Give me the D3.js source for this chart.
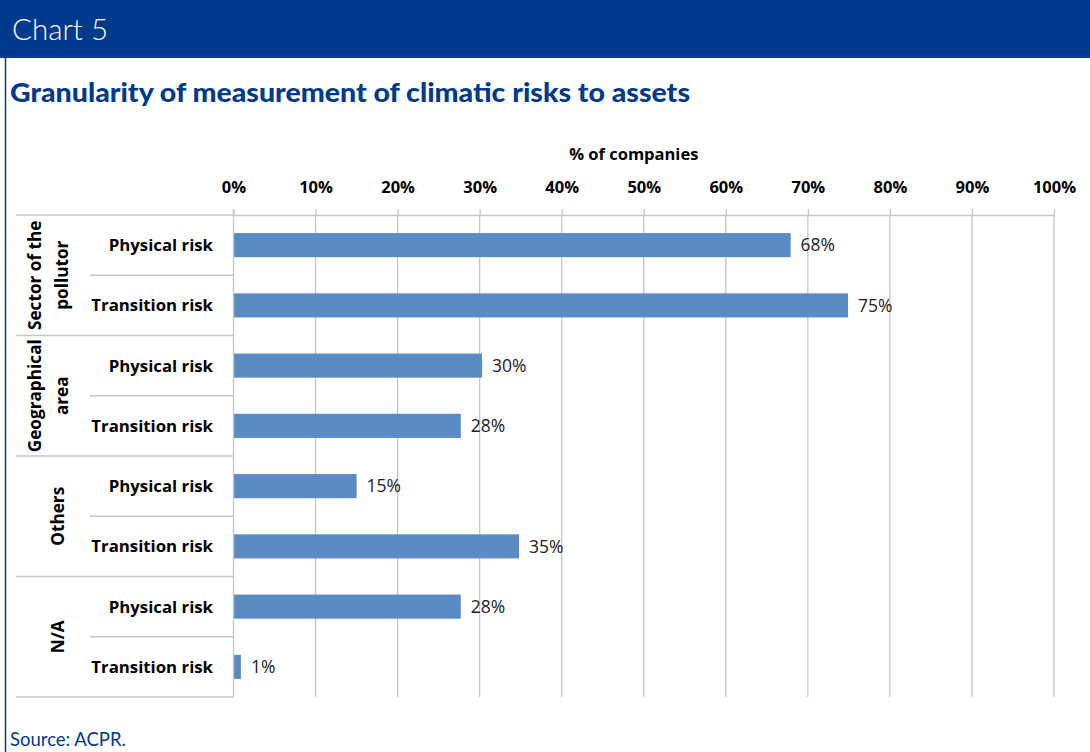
<!DOCTYPE html>
<html><head><meta charset="utf-8">
<script src="https://cdn.jsdelivr.net/npm/d3@7"></script>
<style>
body{margin:0;background:#fff;}
svg{display:block;}
</style></head><body>
<svg id="c" width="1090" height="752"></svg>
<script>
const groups = ["Sector of the|pollutor", "Geographical|area", "Others", "N/A"];
const subcats = ["Physical risk", "Transition risk"];
const values = [67.9, 74.9, 30.3, 27.7, 15.0, 34.8, 27.7, 0.9];
const ticks = [0, 10, 20, 30, 40, 50, 60, 70, 80, 90, 100];

const rows = [];
groups.forEach((g, gi) => subcats.forEach((s, si) => rows.push({key: gi + "-" + si, group: g, sub: s, v: values[gi * 2 + si]})));

const svg = d3.select("#c");
const blue = "#003A8C";
const font = "'Open Sans', sans-serif";
const fs = 16.5;

// header band
svg.append("rect").attr("x", 0).attr("y", 0).attr("width", 1090).attr("height", 58).attr("fill", blue);
svg.append("text").attr("x", 12).attr("y", 40).attr("fill", "#fff")
  .attr("font-family", "Lato, 'Open Sans', sans-serif").attr("font-weight", 300).attr("font-size", 29.5)
  .text("Chart 5");
// left border
svg.append("line").attr("x1", 5.5).attr("x2", 5.5).attr("y1", 58).attr("y2", 752).attr("stroke", blue).attr("stroke-width", 1.5);

// title
svg.append("text").attr("x", 10).attr("y", 102).attr("fill", blue)
  .attr("font-family", "Lato, 'Open Sans', sans-serif").attr("font-weight", 900).attr("font-size", 26)
  .attr("textLength", 680).attr("lengthAdjust", "spacingAndGlyphs")
  .text("Granularity of measurement of climatic risks to assets");

// source
svg.append("text").attr("x", 10).attr("y", 746).attr("fill", blue)
  .attr("font-family", "Lato, 'Open Sans', sans-serif").attr("font-size", 18.5)
  .text("Source: ACPR.");

const x0 = 233.5, x1 = 1054, yTop = 215, yBot = 697;
const x = d3.scaleLinear().domain([0, 100]).range([x0, x1]);
const y = d3.scaleBand().domain(rows.map(r => r.key)).range([yTop, yBot]).paddingInner(0.6).paddingOuter(0.3);
const yRow = d3.scaleBand().domain(rows.map(r => r.key)).range([yTop, yBot]);

const grid = "#c6c6c6";

// gridlines
svg.append("g").selectAll("line").data(ticks.slice(1)).join("line")
  .attr("x1", d => x(d)).attr("x2", d => x(d)).attr("y1", yTop).attr("y2", yBot)
  .attr("stroke", grid).attr("stroke-width", 1.3);

// top axis
const ax = svg.append("g").attr("transform", `translate(0,${yTop})`)
  .call(d3.axisTop(x).tickValues(ticks).tickFormat(d => d + "%").tickSize(6).tickSizeOuter(0));
ax.select(".domain").attr("stroke", grid).attr("stroke-width", 1.3);
ax.selectAll(".tick line").attr("stroke", grid).attr("stroke-width", 1.3);
ax.selectAll(".tick text").attr("y", -22).attr("fill", "#000")
  .attr("font-family", font).attr("font-weight", 700).attr("font-size", fs);

svg.append("text").attr("x", (x0 + x1) / 2 - 10).attr("y", 160).attr("text-anchor", "middle")
  .attr("font-family", font).attr("font-weight", 700).attr("font-size", fs).text("% of companies");

// bars
svg.append("g").selectAll("rect").data(rows).join("rect")
  .attr("x", x(0)).attr("y", d => y(d.key)).attr("width", d => x(d.v) - x(0)).attr("height", y.bandwidth())
  .attr("fill", "#5B8BC5");

// value labels
svg.append("g").selectAll("text").data(rows).join("text")
  .attr("x", d => x(d.v) + 10).attr("y", d => y(d.key) + y.bandwidth() / 2).attr("dy", "0.36em")
  .attr("font-family", font).attr("font-size", 17.5).attr("fill", "#222")
  .text(d => Math.round(d.v) + "%");

// category axis (vertical line)
svg.append("line").attr("x1", x0).attr("x2", x0).attr("y1", yTop - 6).attr("y2", yBot)
  .attr("stroke", grid).attr("stroke-width", 1.3);

// sub labels
svg.append("g").selectAll("text").data(rows).join("text")
  .attr("x", 213).attr("y", d => yRow(d.key) + yRow.bandwidth() / 2).attr("dy", "0.35em")
  .attr("text-anchor", "end").attr("font-family", font).attr("font-weight", 700).attr("font-size", fs + 0.3)
  .text(d => d.sub);

// separators
const seps = [];
rows.forEach((r, i) => {
  const yy = yRow(r.key);
  seps.push({y: yy, full: i % 2 === 0});
});
seps.push({y: yBot, full: true});
svg.append("g").selectAll("line").data(seps).join("line")
  .attr("x1", d => d.full ? 16 : 90).attr("x2", x0).attr("y1", d => d.y).attr("y2", d => d.y)
  .attr("stroke", grid).attr("stroke-width", 1.3);

// group labels (rotated)
groups.forEach((g, gi) => {
  const yc = yRow(gi + "-0") + yRow.bandwidth();
  const lines = g.split("|");
  const cx = lines.length === 2 ? 48 : 58;
  const t = svg.append("text").attr("transform", `translate(${cx},${yc}) rotate(-90)`)
    .attr("text-anchor", "middle").attr("font-family", font).attr("font-weight", 700).attr("font-size", 17.2);
  lines.forEach((l, li) => {
    t.append("tspan").attr("x", 0).attr("y", (li - (lines.length - 1) / 2) * 27).attr("dy", "0.35em").text(l);
  });
});
</script>
</body></html>
